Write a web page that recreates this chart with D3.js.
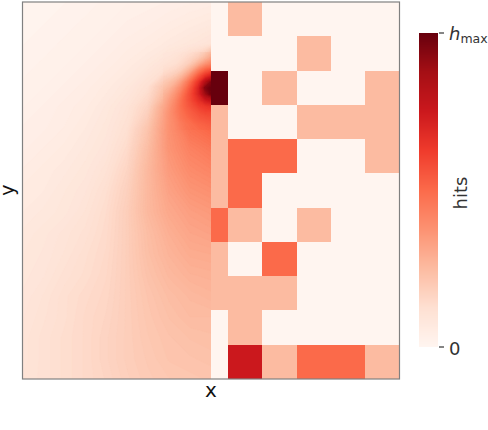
<!DOCTYPE html>
<html><head><meta charset="utf-8">
<script src="https://cdn.jsdelivr.net/npm/d3@7"></script>
<style>html,body{margin:0;padding:0;background:#fff}svg{display:block}text{font-family:"DejaVu Sans",sans-serif}</style>
</head><body><svg id="c" width="488" height="430"></svg>
<script>
// Right half: hits per bin, top row to bottom, bin columns 0..5 (column 0 is half a bin wide)
const binHits = [
 [0,.25,0,0,0,0],
 [0,0,0,.25,0,0],
 [1,0,.25,0,0,.25],
 [.25,0,0,.25,.25,.25],
 [.25,.5,.5,0,0,.25],
 [.25,.5,0,0,0,0],
 [.5,.25,0,.25,0,0],
 [.25,0,.5,0,0,0],
 [.25,.25,.25,0,0,0],
 [0,.25,0,0,0,0],
 [0,.75,.25,.5,.5,.25]
];
// Left half: intensity at these sample positions
const fieldCols = 10, fieldRows = 19;
const fieldValues = [
 .01,.01,.015,.02,.025,.03,.035,.04,.045,.05,
 .012,.015,.02,.025,.03,.04,.045,.055,.065,.075,
 .015,.02,.025,.03,.04,.05,.06,.075,.09,.11,
 .02,.025,.03,.04,.05,.065,.085,.12,.19,.42,
 .025,.03,.04,.05,.065,.085,.125,.25,.50,1,
 .03,.04,.05,.06,.08,.11,.17,.36,.52,.66,
 .04,.045,.055,.07,.09,.125,.22,.38,.48,.52,
 .045,.055,.065,.08,.10,.145,.245,.37,.43,.46,
 .055,.065,.075,.09,.115,.165,.26,.35,.40,.42,
 .065,.07,.085,.10,.13,.18,.26,.33,.37,.385,
 .07,.08,.09,.11,.14,.19,.26,.31,.34,.355,
 .08,.09,.105,.12,.145,.19,.245,.29,.32,.33,
 .085,.095,.11,.13,.15,.19,.24,.275,.30,.305,
 .09,.10,.12,.135,.155,.19,.23,.26,.28,.285,
 .095,.11,.13,.145,.16,.19,.22,.245,.26,.27,
 .10,.115,.13,.15,.165,.19,.215,.235,.25,.25,
 .105,.12,.135,.15,.17,.19,.21,.225,.235,.24,
 .105,.12,.135,.15,.17,.19,.205,.22,.225,.23,
 .11,.12,.135,.15,.165,.185,.20,.21,.215,.22
];
// Finer reading around the peak
const peakCols = 9, peakRows = 14;
const peakValues = [
 .09,.095,.1,.11,.125,.14,.16,.2,.25,
 .1,.105,.115,.13,.15,.175,.21,.26,.32,
 .11,.12,.13,.15,.18,.23,.3,.37,.42,
 .13,.145,.16,.19,.25,.33,.44,.52,.56,
 .16,.18,.21,.26,.34,.45,.56,.65,.72,
 .2,.23,.27,.34,.44,.55,.66,.82,.95,
 .23,.27,.33,.4,.5,.6,.72,.95,1,
 .26,.31,.37,.45,.54,.62,.72,.88,.98,
 .28,.34,.4,.48,.55,.61,.67,.74,.78,
 .3,.36,.42,.49,.54,.58,.62,.64,.66,
 .32,.375,.43,.48,.52,.55,.58,.6,.6,
 .325,.38,.42,.47,.5,.53,.55,.56,.57,
 .33,.38,.41,.45,.48,.5,.52,.53,.54,
 .33,.38,.405,.44,.47,.49,.5,.51,.52
];
const cbarTicks = [0,1];
const axisX = "x", axisY = "y", cbarLabel = "hits";

const svg = d3.select("#c");
const L=22.5,R=399.5,T=2,B=379, n=11;
const color = d3.scaleLinear().domain(d3.range(9).map(i=>i/8)).range(d3.schemeReds[9]).clamp(true);
const x = d3.scaleLinear().domain([0,n]).range([L,R]);
const y = d3.scaleLinear().domain([0,n]).range([T,B]);
const midCol = n/2;
const defs = svg.append("defs");
defs.append("clipPath").attr("id","left").append("rect")
  .attr("x",L).attr("y",T).attr("width",x(midCol)-L).attr("height",B-T);

function drawField(values,nx,ny,x0,x1,y0,y1,clip){
  const sx=d3.scaleLinear().domain([.5,nx-.5]).range([x0,x1]);
  const sy=d3.scaleLinear().domain([.5,ny-.5]).range([y0,y1]);
  const path=d3.geoPath(d3.geoTransform({point(a,b){this.stream.point(sx(a),sy(b));}}));
  const th=d3.range(0,1.0001,1/128);
  const g=svg.append("g").attr("clip-path",clip);
  g.selectAll("path").data(d3.contours().size([nx,ny]).smooth(true).thresholds(th)(values))
   .join("path").attr("d",path).attr("fill",d=>color(d.value)).attr("stroke",d=>color(d.value)).attr("stroke-width",.3);
}
svg.append("rect").attr("x",L).attr("y",T).attr("width",x(midCol)-L).attr("height",B-T).attr("fill",color(0));
drawField(fieldValues,fieldCols,fieldRows,22,211,2,380,"url(#left)");
defs.append("clipPath").attr("id","peak").append("rect").attr("x",163).attr("y",52).attr("width",x(midCol)-163).attr("height",78);
drawField(peakValues,peakCols,peakRows,163,211,52,130,"url(#peak)");

// bins
const edges = [midCol,6,7,8,9,10,11];
binHits.forEach((row,r)=>{
  svg.append("g").selectAll("rect").data(row).join("rect")
    .attr("x",(d,i)=>x(edges[i])).attr("width",(d,i)=>x(edges[i+1])-x(edges[i]))
    .attr("y",y(r)).attr("height",y(r+1)-y(r))
    .attr("fill",d=>color(d)).attr("shape-rendering","crispEdges");
});
// frame
svg.append("rect").attr("x",L).attr("y",T).attr("width",R-L).attr("height",B-T)
  .attr("fill","none").attr("stroke","#808080").attr("stroke-width",1.2);
// axis titles
svg.append("text").attr("x",x(midCol)).attr("y",397).attr("text-anchor","middle").attr("font-size",20).attr("fill","#111").text(axisX);
svg.append("text").attr("transform","translate(14,190) rotate(-90)").attr("text-anchor","middle").attr("font-size",19).attr("fill","#111").text(axisY);
// colourbar
const cb = d3.scaleLinear().domain([0,1]).range([347,33]);
const cbRows = d3.range(33,347);
svg.append("g").attr("shape-rendering","crispEdges").selectAll("rect").data(cbRows).join("rect")
  .attr("x",419).attr("width",19).attr("y",d=>d).attr("height",1)
  .attr("fill",d=>color(cb.invert(d+.5)));
const tk=svg.append("g").attr("transform","translate(438,0)");
tk.selectAll("line").data(cbarTicks).join("line").attr("x1",1).attr("x2",6)
  .attr("y1",d=>cb(d)).attr("y2",d=>cb(d)).attr("stroke","#333").attr("stroke-width",1.2);
svg.append("text").attr("x",449).attr("y",355).attr("font-size",18).attr("fill","#333").text("0");
const hm=svg.append("text").attr("x",449).attr("y",40).attr("font-size",18).attr("fill","#333");
hm.append("tspan").attr("font-style","italic").text("h");
hm.append("tspan").attr("font-size",12.5).attr("dy",3).text("max");
svg.append("text").attr("transform","translate(467,193) rotate(-90)").attr("text-anchor","middle").attr("font-size",18).attr("fill","#333").text(cbarLabel);
</script></body></html>
